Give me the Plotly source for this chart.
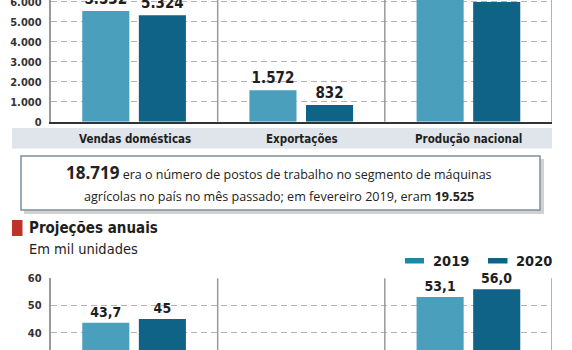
import plotly.graph_objects as go

# ---------------- data ----------------
categories = ["Vendas domésticas", "Exportações", "Produção nacional"]
mensal_2019 = [5532, 1572, 7000]
mensal_2020 = [5324, 832, 5990]
mensal_label_show = [True, True, False]   # labels of Produção are cropped out of view

proj_categories = ["A", "B", "C"]
proj_2019 = [43.7, None, 53.1]
proj_2020 = [45, None, 56.0]
proj_labels_2019 = ["43,7", "", "53,1"]
proj_labels_2020 = ["45", "", "56,0"]

top_ticks = [0, 1000, 2000, 3000, 4000, 5000, 6000]
bottom_ticks = [40, 50, 60]
series_names = ["2019", "2020"]

# ---------------- style ----------------
W, H = 572, 350
C19 = "#4a9fbd"
C20 = "#0f6386"
NARROW = "DejaVu Sans Condensed, Roboto, sans-serif"
BODY = "Open Sans, Lato, sans-serif"
TXT = "#1e1e1e"


def px(x):
    return x / W


def py(y):
    return 1 - y / H


def fmt_pt(v):
    return f"{v:,}".replace(",", ".")


fig = go.Figure()

top_text19 = [fmt_pt(v) if s else "" for v, s in zip(mensal_2019, mensal_label_show)]
top_text20 = [fmt_pt(v) if s else "" for v, s in zip(mensal_2020, mensal_label_show)]

bar_font = dict(family=NARROW, size=15, color=TXT, weight="bold")
bar_font2 = dict(family=NARROW, size=14, color=TXT, weight="bold")

fig.add_trace(go.Bar(x=categories, y=mensal_2019, name=series_names[0], marker_color=C19,
                     text=top_text19, textposition="outside", textfont=bar_font,
                     xaxis="x", yaxis="y", showlegend=False, marker_line_width=0))
fig.add_trace(go.Bar(x=categories, y=mensal_2020, name=series_names[1], marker_color=C20,
                     text=top_text20, textposition="outside", textfont=bar_font,
                     xaxis="x", yaxis="y", showlegend=False, marker_line_width=0))

fig.add_trace(go.Bar(x=proj_categories, y=proj_2019, name=series_names[0], marker_color=C19,
                     text=proj_labels_2019, textposition="outside", textfont=bar_font2,
                     cliponaxis=False,
                     xaxis="x2", yaxis="y2", showlegend=False, marker_line_width=0))
fig.add_trace(go.Bar(x=proj_categories, y=proj_2020, name=series_names[1], marker_color=C20,
                     text=proj_labels_2020, textposition="outside", textfont=bar_font2,
                     cliponaxis=False,
                     xaxis="x2", yaxis="y2", showlegend=False, marker_line_width=0))

xdom = [px(50.5), px(552)]
tickfont = dict(family=NARROW, size=11, color="#333", weight="bold")
grid = dict(showgrid=True, gridcolor="#b4b4b4", gridwidth=1, griddash="6px,4px")

fig.update_layout(
    width=W, height=H,
    margin=dict(l=0, r=0, t=0, b=0, autoexpand=False),
    paper_bgcolor="white", plot_bgcolor="white",
    separators=",.",
    barmode="group", bargap=0.323, bargroupgap=0.168,
    xaxis=dict(domain=xdom, anchor="y", range=[-0.5, 2.5], showticklabels=False,
               showgrid=False, zeroline=False, showline=True, linecolor="#333", linewidth=1.5,
               ticks="", automargin=False),
    yaxis=dict(domain=[py(121.7), 1], anchor="x", range=[0, 6085], tickvals=top_ticks,
               tickformat=",d", tickfont=tickfont, zeroline=False, showline=True,
               linecolor="#9a9a9a", linewidth=1.5, ticks="", ticklabelstandoff=5,
               ticklabeloverflow="allow", automargin=False, **grid),
    xaxis2=dict(domain=xdom, anchor="y2", range=[-0.5, 2.5], showticklabels=False,
                showgrid=False, zeroline=False, showline=False, ticks="", automargin=False),
    yaxis2=dict(domain=[0, py(278.3)], anchor="x2", range=[33.64, 60], tickvals=bottom_ticks,
                tickfont=tickfont, zeroline=False, showline=True, linecolor="#9a9a9a",
                linewidth=1.5, ticks="", ticklabelstandoff=5, ticklabeloverflow="allow",
                automargin=False, **grid),
    font=dict(family=NARROW, color=TXT),
)

shapes = []
# panel separators
for xa, ya in (("x", "y"), ("x2", "y2")):
    for xv in (0.5, 1.5, 2.5):
        shapes.append(dict(type="line", xref=xa, yref=f"{ya} domain", x0=xv, x1=xv, y0=0, y1=1,
                           line=dict(color="#9a9a9a", width=1.5), layer="above"))

# category band
shapes.append(dict(type="rect", xref="paper", yref="paper", x0=px(12), x1=px(552),
                   y0=py(148.5), y1=py(128), fillcolor="#dfe5ea", line_width=0, layer="below"))

# text box shadow + box
shapes.append(dict(type="rect", xref="paper", yref="paper", x0=px(24), x1=px(544),
                   y0=py(214), y1=py(159), fillcolor="rgba(0,0,0,0.18)", line_width=0))
shapes.append(dict(type="rect", xref="paper", yref="paper", x0=px(21), x1=px(540),
                   y0=py(210), y1=py(156), fillcolor="white",
                   line=dict(color="#7f909e", width=1.5)))

# red square
shapes.append(dict(type="rect", xref="paper", yref="paper", x0=px(12), x1=px(22.5),
                   y0=py(236), y1=py(220), fillcolor="#c0312a", line_width=0))

# legend swatches
shapes.append(dict(type="rect", xref="paper", yref="paper", x0=px(405), x1=px(424),
                   y0=py(263.5), y1=py(258), fillcolor="#1b87aa", line_width=0))
shapes.append(dict(type="rect", xref="paper", yref="paper", x0=px(488), x1=px(507.5),
                   y0=py(263.5), y1=py(258), fillcolor=C20, line_width=0))
fig.update_layout(shapes=shapes)

ann = []
panel_centers = [134.5, 301.5, 468.5]
for c, xc in zip(categories, panel_centers):
    ann.append(dict(text=c, x=px(xc), y=py(138.5), xref="paper", yref="paper", showarrow=False,
                    xanchor="center", yanchor="middle",
                    font=dict(family=NARROW, size=11.5, color=TXT, weight="bold")))

ann.append(dict(text="<b style='font-size:17px'>18.719</b> era o número de postos de trabalho no segmento de máquinas",
                x=px(278.5), y=py(173), xref="paper", yref="paper", showarrow=False,
                xanchor="center", yanchor="middle",
                font=dict(family=BODY, size=12.5, color="#222")))
ann.append(dict(text="agrícolas no país no mês passado; em fevereiro 2019, eram <b>19.525</b>",
                x=px(279), y=py(196), xref="paper", yref="paper", showarrow=False,
                xanchor="center", yanchor="middle",
                font=dict(family=BODY, size=12.6, color="#222")))

ann.append(dict(text="Projeções anuais", x=px(26.5), y=py(228), xref="paper", yref="paper",
                showarrow=False, xanchor="left", yanchor="middle",
                font=dict(family=NARROW, size=15, color=TXT, weight="bold")))
ann.append(dict(text="Em mil unidades", x=px(26.5), y=py(249), xref="paper", yref="paper",
                showarrow=False, xanchor="left", yanchor="middle",
                font=dict(family=NARROW, size=14.5, color=TXT)))

ann.append(dict(text=series_names[0], x=px(431), y=py(261), xref="paper", yref="paper",
                showarrow=False, xanchor="left", yanchor="middle",
                font=dict(family=NARROW, size=14.5, color=TXT, weight="bold")))
ann.append(dict(text=series_names[1], x=px(514), y=py(261), xref="paper", yref="paper",
                showarrow=False, xanchor="left", yanchor="middle",
                font=dict(family=NARROW, size=14.5, color=TXT, weight="bold")))
fig.update_layout(annotations=ann)

fig.write_html("out.html")
